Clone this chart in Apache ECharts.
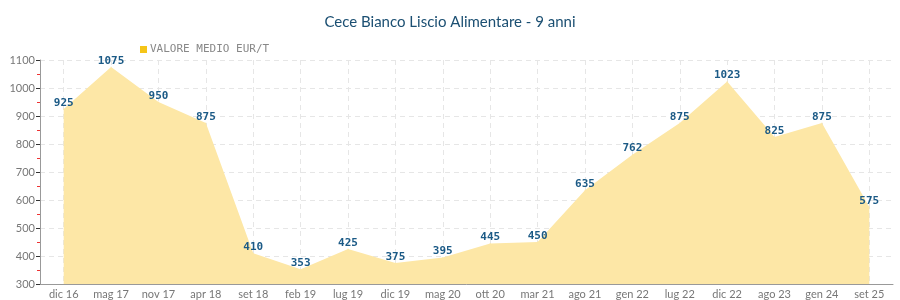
<!DOCTYPE html>
<html><head><meta charset="utf-8">
<script src="https://cdn.jsdelivr.net/npm/echarts@6/dist/echarts.min.js"></script>
<style>html,body{margin:0;padding:0;background:#fff}#c{width:900px;height:300px}</style>
</head><body><div id="c"></div>
<script>
const categories = ['dic 16','mag 17','nov 17','apr 18','set 18','feb 19','lug 19','dic 19','mag 20','ott 20','mar 21','ago 21','gen 22','lug 22','dic 22','ago 23','gen 24','set 25'];
const values = [925,1075,950,875,410,353,425,375,395,445,450,635,762,875,1023,825,875,575];
const seriesName = 'VALORE MEDIO EUR/T';
const titleText = 'Cece Bianco Liscio Alimentare - 9 anni';

const chart = echarts.init(document.getElementById('c'));
chart.setOption({
  animation: false,
  title: {text: titleText, left: 'center', top: 10,
    textStyle: {color: '#1b4f72', fontFamily: 'Lato', fontSize: 15, fontWeight: 'normal'}},
  legend: {left: 135, top: 39, itemWidth: 7, itemHeight: 7, itemGap: 3,
    icon: 'rect',
    textStyle: {color: '#888', fontFamily: 'DejaVu Sans Mono', fontSize: 11, padding:[0,0,0,-2]},
    data: [{name: seriesName, itemStyle: {color: '#f5c518'}}]},
  grid: {left: 40, right: 7, top: 60, bottom: 15, containLabel: false},
  xAxis: {type: 'category', data: categories, boundaryGap: true,
    axisLine: {lineStyle: {color: '#999'}},
    axisTick: {alignWithLabel: true, interval: 0, length: 4, lineStyle: {color: '#333'}},
    axisLabel: {interval: 0, color: '#777', fontFamily: 'Lato', fontSize: 11, margin: 5},
    splitLine: {show: true, interval: 0, alignWithLabel: true, lineStyle: {color: '#e6e6e6', type: [5,4]}}},
  yAxis: {type: 'value', min: 300, max: 1100, interval: 100,
    axisLine: {show: true, lineStyle: {color: '#999'}},
    axisTick: {show: true, length: 4, lineStyle: {color: '#333'}},
    minorTick: {show: true, splitNumber: 2, length: 3, lineStyle: {color: '#e33'}},
    axisLabel: {color: '#777', fontFamily: 'Lato', fontSize: 11, margin: 5, formatter: v => String(v)},
    splitLine: {show: true, lineStyle: {color: '#e6e6e6', type: [5,4]}}},
  series: [{name: seriesName, type: 'line', data: values,
    symbol: 'circle', symbolSize: 1, showSymbol: true, showAllSymbol: true,
    itemStyle: {color: '#fde7a6'},
    lineStyle: {width: 0},
    areaStyle: {color: '#fde7a6', opacity: 1},
    label: {show: true, position: 'top', distance: 0, color: '#1b5a86',
      fontFamily: 'DejaVu Sans Mono', fontWeight: 'bold', fontSize: 11}}]
});
</script></body></html>
